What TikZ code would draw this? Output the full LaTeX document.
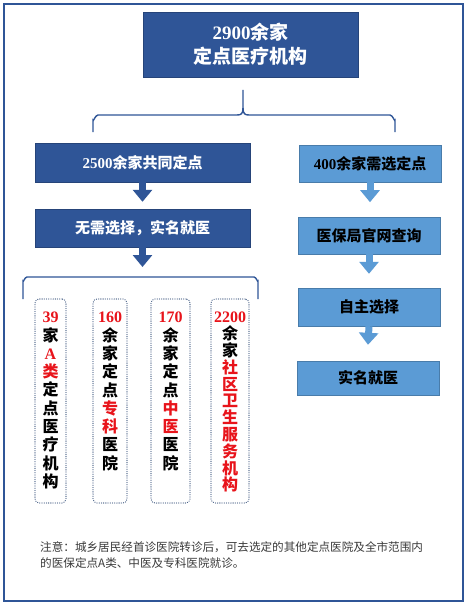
\documentclass[tikz,border=0pt]{standalone}
\usepackage{fontspec}
\usetikzlibrary{arrows.meta,calc}
\newfontfamily\cjk{Noto Sans CJK SC}
\newfontfamily\lser{Liberation Serif}
\definecolor{dblue}{HTML}{2F5597}
\definecolor{lblue}{HTML}{5B9BD5}
\definecolor{hred}{HTML}{E8141B}
\definecolor{dotc}{HTML}{4A6388}
\definecolor{notec}{HTML}{3A3A3A}
\newcommand\rd[1]{\textcolor{hred}{#1}}
\tikzset{
  darkbox/.style={fill=dblue, draw=dblue!80!black, line width=0.4pt, text=white, font=\cjk\bfseries\fontsize{15}{18}\selectfont, inner sep=0pt},
  lightbox/.style={fill=lblue, draw=lblue!80!black, line width=0.4pt, text=black, font=\cjk\bfseries\fontsize{15}{18}\selectfont, inner sep=0pt},
  dotbox/.style={draw=dotc, line width=1.3pt, dash pattern=on 0.01pt off 2.2pt, line cap=round, rounded corners=4pt, inner sep=0pt},
  vtext/.style={anchor=north, align=center, font=\cjk\bfseries\fontsize{16}{18.3}\selectfont, inner sep=0pt},
  darkarrow/.style={draw=dblue, line width=7pt, -{Triangle[width=19pt,length=12pt]}},
  lightarrow/.style={draw=lblue, line width=7pt, -{Triangle[width=19pt,length=12pt]}},
  bracel/.style={draw=dblue, line width=1.4pt},
}
\begin{document}
\begin{tikzpicture}[x=1pt,y=-1pt]
\useasboundingbox (0,0) rectangle (468,607);
\fill[white] (0,0) rectangle (468,607);
\draw[dblue, line width=1.6pt] (4,4) rectangle (463,601);

% top
\node[darkbox, minimum width=215pt, minimum height=65pt, align=center, font=\cjk\bfseries\fontsize{19}{24}\selectfont] (top) at (250.5,44.5) {{\lser\bfseries 2900}余家\\定点医疗机构};

% brace
\draw[bracel] (93,132) -- (93,120) to[out=-90,in=180] (98,115) -- (237,115)
  .. controls (241,115) and (243,114) .. (243,108) -- (243,90);
\draw[bracel] (243,108) .. controls (243,114) and (245,115) .. (249,115) -- (390,115)
  to[out=0,in=-90] (395,120) -- (395,132);

% left column
\node[darkbox, minimum width=215pt, minimum height=39pt] (b2500) at (142.5,162.5) {{\lser\bfseries 2500}余家共同定点};
\node[darkbox, minimum width=215pt, minimum height=38pt] (bwu) at (142.5,228) {无需选择，实名就医};
\draw[darkarrow] (b2500.south) -- ($(bwu.north)+(0,-7)$);
\coordinate (bend) at (142.5,267);
\draw[darkarrow] (bwu.south) -- (bend);

% right column
\node[lightbox, minimum width=142pt, minimum height=37pt] (b400) at (370,163.5) {{\lser\bfseries 400}余家需选定点};
\node[lightbox, minimum width=142pt, minimum height=37pt] (byb) at (369,235.5) {医保局官网查询};
\node[lightbox, minimum width=142pt, minimum height=38pt] (bzz) at (369,307) {自主选择};
\node[lightbox, minimum width=142pt, minimum height=34pt] (bsm) at (368,378) {实名就医};
\draw[lightarrow] (b400.south) -- ($(b400.south)+(0,20)$);
\draw[lightarrow] (byb.south) -- ($(bzz.north)+(0,-14)$);
\draw[lightarrow] (bzz.south) -- ($(bsm.north)+(0,-16)$);

% bottom bracket
\draw[bracel] (23,299) -- (23,281) to[out=-90,in=180] (27,277) -- (254,277) to[out=0,in=-90] (258,281) -- (258,299);

% dotted boxes
\node[dotbox, minimum width=31pt, minimum height=204pt] (d1) at (50.5,401) {};
\node[dotbox, minimum width=34pt, minimum height=204pt] (d2) at (110,401) {};
\node[dotbox, minimum width=39pt, minimum height=204pt] (d3) at (170.5,401) {};
\node[dotbox, minimum width=38pt, minimum height=204pt] (d4) at (230,401) {};

\node[vtext] (t1) at (50.5,312) {\rd{\lser\bfseries 39}\\家\\\rd{\lser\bfseries A}\\\rd{类}\\定\\点\\医\\疗\\机\\构};
\node[vtext] (t2) at (110,312) {\rd{\lser\bfseries 160}\\余\\家\\定\\点\\\rd{专}\\\rd{科}\\医\\院};
\node[vtext] (t3) at (170.5,312) {\rd{\lser\bfseries 170}\\余\\家\\定\\点\\\rd{中}\\\rd{医}\\医\\院};
\node[vtext, font=\cjk\bfseries\fontsize{16}{16.8}\selectfont] (t4) at (230,312) {\rd{\lser\bfseries 2200}\\余\\家\\\rd{社}\\\rd{区}\\\rd{卫}\\\rd{生}\\\rd{服}\\\rd{务}\\\rd{机}\\\rd{构}};

% note
\node[anchor=west, align=left, text=notec, inner sep=0pt, font=\cjk\fontsize{11.6}{16}\selectfont] (note) at (40,555) {注意：城乡居民经首诊医院转诊后，可去选定的其他定点医院及全市范围内\\的医保定点A类、中医及专科医院就诊。};
\end{tikzpicture}
\end{document}
